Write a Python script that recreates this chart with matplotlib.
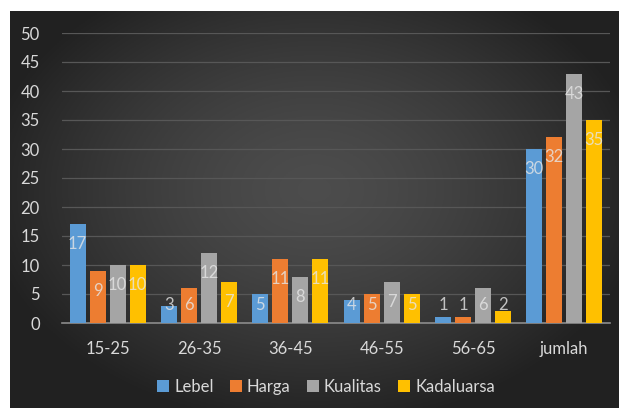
import numpy as np
import matplotlib
matplotlib.use('Agg')
from matplotlib import pyplot as plt

plt.rcParams['font.family'] = ['Lato', 'DejaVu Sans']

kelompok = ['15-25', '26-35', '36-45', '46-55', '56-65', 'jumlah']
lebel = [17, 3, 5, 4, 1, 30]
harga = [9, 6, 11, 5, 1, 32]
kualitas = [10, 12, 8, 7, 6, 43]
kadaluarsa = [10, 7, 11, 5, 2, 35]

seri = [('Lebel', lebel, '#5B9BD5'),
        ('Harga', harga, '#ED7D31'),
        ('Kualitas', kualitas, '#A5A5A5'),
        ('Kadaluarsa', kadaluarsa, '#FFC000')]

fig = plt.figure(figsize=(6.19, 4.08), dpi=100)
fig.patch.set_facecolor('white')

# panel latar belakang gelap dengan gradasi
bg = fig.add_axes([10/619, 0, 609/619, 397/408])
yy, xx = np.mgrid[-1:1:200j, -1:1:300j]
r = np.sqrt((xx/1.1)**2 + ((yy+0.1)/1.2)**2)
shade = 0.30 - 0.17*np.clip(r, 0, 1)**1.5
bg.imshow(np.dstack([shade]*3), aspect='auto', extent=[0, 1, 0, 1])
bg.set_axis_off()

ax = fig.add_axes([62/619, 1-323/408, 548/619, 290/408])
ax.set_facecolor('none')

x = np.arange(len(kelompok))
pitch = 0.219
lebar = 0.175
for i, (nama, nilai, warna) in enumerate(seri):
    pos = x + (i - 1.5)*pitch
    ax.bar(pos, nilai, width=lebar, color=warna, label=nama, zorder=3)
    for px, v in zip(pos, nilai):
        ax.text(px, max(v - 3.45, 3.1), str(v), ha='center', va='center',
                color='#e6e6e6', alpha=0.8, fontsize=12, zorder=4)

ax.set_ylim(0, 50)
ax.set_xlim(-0.5, len(kelompok) - 0.5)
ax.set_yticks(range(0, 51, 5))
ax.set_xticks(x)
ax.set_xticklabels(kelompok)
ax.tick_params(length=0, colors='#d9d9d9', labelsize=12)
ax.tick_params(axis='x', pad=13)
ax.tick_params(axis='y', pad=16)
ax.grid(axis='y', color='#575757', linewidth=0.9, zorder=0)
for s in ['top', 'right', 'left']:
    ax.spines[s].set_visible(False)
ax.spines['bottom'].set_color('#8c8c8c')
ax.spines['bottom'].set_linewidth(1.2)

leg = ax.legend(loc='center', bbox_to_anchor=(0.482, -0.22), ncol=4, frameon=False,
                fontsize=12, handlelength=0.7, handleheight=0.7, handletextpad=0.3,
                columnspacing=1.0, labelcolor='#d9d9d9')

fig.savefig('out.png', dpi=100)
